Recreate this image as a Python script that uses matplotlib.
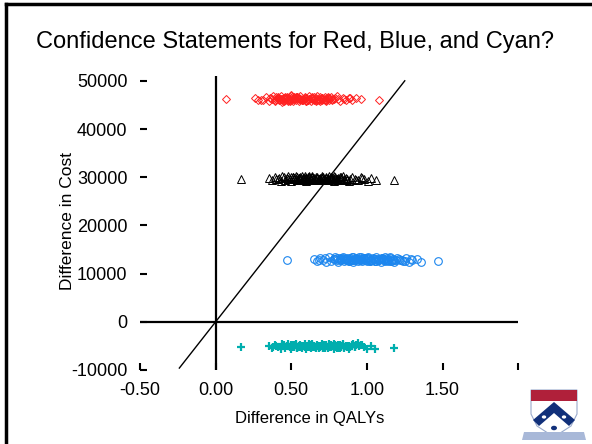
import matplotlib
matplotlib.use("Agg")
import matplotlib.pyplot as plt
from matplotlib.lines import Line2D
from matplotlib.patches import Polygon, Circle

plt.rcParams['font.family'] = ['Liberation Sans', 'DejaVu Sans']

# simulated incremental QALYs / costs for each strategy
red_qaly = [
    0.07, 0.26, 0.30, 0.33, 0.35, 0.36, 0.38, 0.39, 0.40, 0.41,
    0.42, 0.43, 0.44, 0.45, 0.46, 0.47, 0.48, 0.49, 0.50, 0.50,
    0.51, 0.52, 0.53, 0.54, 0.55, 0.55, 0.56, 0.57, 0.58, 0.59,
    0.60, 0.60, 0.61, 0.62, 0.63, 0.64, 0.65, 0.65, 0.66, 0.67,
    0.68, 0.69, 0.70, 0.71, 0.72, 0.73, 0.74, 0.75, 0.76, 0.77,
    0.78, 0.80, 0.82, 0.84, 0.86, 0.88, 0.90, 0.93, 0.96, 1.08,
    0.40, 0.44, 0.48, 0.52, 0.56, 0.60, 0.64, 0.68, 0.72, 0.46,
    0.54, 0.62, 0.70, 0.58, 0.66, 0.50, 0.42, 0.74, 0.37, 0.79,
    0.39, 0.41, 0.43, 0.45, 0.47, 0.49, 0.51, 0.53, 0.55, 0.57,
    0.59, 0.61, 0.63, 0.65, 0.67, 0.69, 0.71, 0.73, 0.75, 0.77,
    0.44, 0.48, 0.52, 0.56, 0.60, 0.64, 0.68, 0.72, 0.50, 0.58,
    0.66, 0.54, 0.62, 0.70, 0.46, 0.81, 0.31, 0.85, 0.89, 0.28,
]
red_cost = [
    46200, 46500, 46000, 46700, 45900, 46400, 46800, 45800, 46300, 46600,
    46000, 46900, 45700, 46400, 46000, 46700, 46200, 45900, 46500, 47000,
    45800, 46300, 46100, 46600, 45900, 46400, 46900, 46000, 46200, 46700,
    45800, 46500, 46100, 46800, 45900, 46300, 46600, 46000, 46400, 46900,
    46100, 45800, 46500, 46200, 46700, 45900, 46400, 46100, 46600, 46000,
    46300, 46800, 45900, 46500, 46100, 46400, 46000, 46500, 46200, 46100,
    46600, 46100, 45800, 46500, 46200, 45900, 46700, 46300, 46000, 46400,
    46700, 46200, 46500, 46000, 45800, 46800, 46300, 46600, 46200, 46500,
    46100, 46500, 46300, 45900, 46400, 46000, 46300, 46600, 46200, 46000,
    46400, 46100, 46500, 46200, 46000, 46600, 46300, 46000, 46400, 46200,
    46300, 46000, 46600, 46300, 46000, 46400, 46100, 46300, 46400, 46200,
    46000, 46500, 46300, 46100, 46600, 46200, 46000, 46300, 46500, 46000,
]

black_qaly = [
    0.17, 0.35, 0.37, 0.39, 0.41, 0.43, 0.44, 0.46, 0.47, 0.48,
    0.49, 0.50, 0.51, 0.52, 0.53, 0.54, 0.55, 0.56, 0.57, 0.58,
    0.59, 0.60, 0.61, 0.62, 0.63, 0.64, 0.65, 0.66, 0.67, 0.68,
    0.69, 0.70, 0.71, 0.72, 0.73, 0.74, 0.75, 0.76, 0.77, 0.78,
    0.79, 0.80, 0.81, 0.82, 0.83, 0.84, 0.85, 0.86, 0.88, 0.90,
    0.92, 0.94, 0.96, 0.98, 1.01, 1.03, 1.06, 1.18, 0.50, 0.54,
    0.58, 0.62, 0.66, 0.70, 0.74, 0.78, 0.82, 0.56, 0.64, 0.72,
    0.60, 0.68, 0.76, 0.52, 0.80, 0.45, 0.87, 0.63, 0.71, 0.57,
    0.48, 0.51, 0.53, 0.55, 0.57, 0.59, 0.61, 0.63, 0.65, 0.67,
    0.69, 0.71, 0.73, 0.75, 0.77, 0.79, 0.81, 0.83, 0.85, 0.87,
    0.52, 0.56, 0.60, 0.64, 0.68, 0.72, 0.76, 0.80, 0.58, 0.66,
    0.74, 0.62, 0.70, 0.78, 0.54, 0.89, 0.42, 0.93, 0.97, 0.40,
]
black_cost = [
    29600, 29900, 29400, 30100, 29700, 29300, 30200, 29500, 29900, 30300,
    29600, 29200, 30000, 29700, 30300, 29400, 29800, 30100, 29500, 29900,
    30200, 29300, 29700, 30000, 29500, 30300, 29800, 29400, 30100, 29600,
    29900, 30200, 29400, 29700, 30000, 29500, 30300, 29600, 29900, 29300,
    30100, 29700, 29400, 30000, 29600, 30200, 29500, 29800, 29300, 30100,
    29700, 29400, 30000, 29600, 29300, 29900, 29500, 29500, 30100, 29500,
    29800, 30200, 29400, 29900, 29600, 30200, 29500, 29700, 30100, 29400,
    29800, 29500, 30000, 29700, 29400, 30000, 29600, 29800, 29500, 30200,
    29700, 30000, 29600, 29900, 29500, 29800, 30000, 29700, 29500, 29900,
    29600, 30000, 29800, 29500, 29900, 29600, 29800, 30000, 29700, 29500,
    29900, 29600, 29800, 30000, 29700, 29500, 29900, 29700, 29600, 30000,
    29800, 29500, 29900, 29700, 30000, 29600, 29800, 29500, 29900, 29700,
]

blue_qaly = [
    0.47, 0.65, 0.67, 0.69, 0.71, 0.73, 0.75, 0.76, 0.78, 0.79,
    0.80, 0.81, 0.82, 0.83, 0.84, 0.85, 0.86, 0.87, 0.88, 0.89,
    0.90, 0.91, 0.92, 0.93, 0.94, 0.95, 0.96, 0.97, 0.98, 0.99,
    1.00, 1.01, 1.02, 1.03, 1.04, 1.05, 1.06, 1.07, 1.08, 1.09,
    1.10, 1.11, 1.12, 1.13, 1.14, 1.15, 1.16, 1.17, 1.18, 1.20,
    1.22, 1.24, 1.26, 1.28, 1.30, 1.33, 1.36, 1.47, 0.84, 0.88,
    0.92, 0.96, 1.00, 1.04, 1.08, 1.12, 1.16, 0.90, 0.98, 1.06,
    0.94, 1.02, 1.10, 0.86, 1.14, 0.80, 1.19, 0.97, 1.05, 0.91,
    0.79, 0.82, 0.85, 0.87, 0.89, 0.91, 0.93, 0.95, 0.97, 0.99,
    1.01, 1.03, 1.05, 1.07, 1.09, 1.11, 1.13, 1.15, 1.17, 1.21,
    0.83, 0.88, 0.93, 0.98, 1.03, 1.08, 1.13, 0.86, 0.96, 1.06,
    0.90, 1.00, 1.10, 1.18, 0.78, 1.23, 0.72, 1.25, 1.29, 0.68,
]
blue_cost = [
    12800, 13100, 12600, 13300, 12900, 12500, 13400, 12700, 13100, 13500,
    12800, 12400, 13200, 12900, 13500, 12600, 13000, 13300, 12700, 13100,
    13400, 12500, 12900, 13200, 12700, 13500, 13000, 12600, 13300, 12800,
    13100, 13400, 12600, 12900, 13200, 12700, 13500, 12800, 13100, 12500,
    13300, 12900, 12600, 13200, 12800, 13400, 12700, 13000, 12500, 13300,
    12900, 12600, 13200, 12400, 12800, 13100, 12500, 12600, 13300, 12700,
    13000, 13400, 12600, 13100, 12800, 13400, 12700, 12900, 13300, 12600,
    13000, 12700, 13200, 12900, 12600, 13200, 12800, 13000, 12700, 13400,
    13000, 12800, 13100, 12900, 13200, 12800, 13000, 12900, 13100, 12800,
    13200, 12900, 13000, 12800, 13100, 13000, 12900, 13200, 12800, 13000,
    13100, 12900, 13000, 13200, 12800, 13100, 12900, 13000, 12800, 13100,
    12900, 13200, 13000, 12800, 13100, 12900, 13200, 12700, 13000, 12900,
]

cyan_qaly = [
    0.17, 0.35, 0.37, 0.39, 0.41, 0.43, 0.44, 0.46, 0.47, 0.48,
    0.49, 0.50, 0.51, 0.52, 0.53, 0.54, 0.55, 0.56, 0.57, 0.58,
    0.59, 0.60, 0.61, 0.62, 0.63, 0.64, 0.65, 0.66, 0.67, 0.68,
    0.69, 0.70, 0.71, 0.72, 0.73, 0.74, 0.75, 0.76, 0.77, 0.78,
    0.79, 0.80, 0.81, 0.82, 0.83, 0.84, 0.85, 0.86, 0.88, 0.90,
    0.92, 0.94, 0.96, 0.98, 1.00, 1.03, 1.05, 1.18, 0.50, 0.54,
    0.58, 0.62, 0.66, 0.70, 0.74, 0.78, 0.82, 0.56, 0.64, 0.72,
    0.60, 0.68, 0.76, 0.52, 0.80, 0.45, 0.87, 0.63, 0.71, 0.93,
    0.48, 0.51, 0.53, 0.55, 0.57, 0.59, 0.61, 0.63, 0.65, 0.67,
    0.69, 0.71, 0.73, 0.75, 0.77, 0.79, 0.81, 0.83, 0.85, 0.87,
    0.52, 0.56, 0.60, 0.64, 0.68, 0.72, 0.76, 0.80, 0.84, 0.88,
    0.91, 0.95, 0.62, 0.70, 0.78, 0.89, 0.40, 0.92, 0.97, 0.38,
]
cyan_cost = [
    -5300, -5000, -5500, -4800, -5200, -5600, -4700, -5400, -5000, -4600,
    -5300, -5700, -4900, -5200, -4600, -5500, -5100, -4800, -5400, -5000,
    -4700, -5600, -5200, -4900, -5400, -4600, -5100, -5500, -4800, -5300,
    -5000, -4700, -5500, -5200, -4900, -5400, -4600, -5300, -5000, -5600,
    -4800, -5200, -5500, -4900, -5300, -4700, -5400, -5100, -5600, -4800,
    -5200, -4500, -4900, -5300, -5700, -5000, -5600, -5400, -4800, -5400,
    -5100, -4700, -5500, -5000, -5300, -4700, -5400, -5200, -4800, -5500,
    -5100, -5400, -4900, -5200, -5500, -4900, -5300, -5100, -5400, -4800,
    -5100, -5300, -4900, -5200, -5000, -5300, -5100, -4900, -5200, -5000,
    -5300, -4900, -5100, -5200, -5000, -5300, -4900, -5100, -5200, -5000,
    -4900, -5200, -5000, -5300, -5100, -4900, -5200, -5000, -4800, -5100,
    -4700, -5000, -5300, -5100, -4900, -5200, -5100, -5300, -4900, -5200,
]

# willingness-to-pay line, $40,000 per QALY
wtp = 40000
wtp_x = [-0.24, 1.25]

xticks = [-0.5, 0.0, 0.5, 1.0, 1.5, 2.0]
xtick_labels = ['-0.50', '0.00', '0.50', '1.00', '1.50', '']
yticks = [-10000, 0, 10000, 20000, 30000, 40000, 50000]

W, H = 592, 444
fig = plt.figure(figsize=(W / 100, H / 100), dpi=100)


def px(x, y):
    return x / W, 1 - y / H


ax = fig.add_axes([0.2365, 0.1667, 0.644, 0.673])
ax.set_xlim(-0.5, 2.02)
ax.set_ylim(-10000, 52000)
for s in ax.spines.values():
    s.set_visible(False)

# axes through the origin
ax.plot([-0.5, 2.0], [0, 0], color='black', lw=1.6, solid_capstyle='butt')
ax.plot([0, 0], [-10000, 51000], color='black', lw=1.6, solid_capstyle='butt')
ax.plot(wtp_x, [wtp * v for v in wtp_x], color='black', lw=1.0)

ax.plot(red_qaly, red_cost, ls='none', marker='D', ms=4.2, mfc='none',
        mec='#ff2020', mew=0.7)
ax.plot(black_qaly, black_cost, ls='none', marker='^', ms=5.5, mfc='none',
        mec='black', mew=0.7)
ax.plot(blue_qaly, blue_cost, ls='none', marker='o', ms=5.5, mfc='none',
        mec='#1c86ee', mew=0.8)
ax.plot(cyan_qaly, cyan_cost, ls='none', marker='+', ms=6, mec='#00aeae',
        mew=1.6)

ax.set_xticks(xticks)
ax.set_xticklabels(xtick_labels)
ax.set_yticks(yticks)
ax.set_yticklabels([str(v) for v in yticks])
ax.tick_params(direction='in', length=5, width=1.5, labelsize=13, pad=9)

fig.text(px(310, 0)[0], px(0, 418)[1], 'Difference in QALYs', fontsize=12,
         ha='center', va='center')
fig.text(px(67, 0)[0], px(0, 221)[1], 'Difference in Cost', fontsize=12.5,
         ha='center', va='center', rotation=90)
fig.text(px(295, 0)[0], px(0, 42)[1],
         'Confidence Statements for Red, Blue, and Cyan?', fontsize=17,
         ha='center', va='center')

# slide frame
fig.add_artist(Line2D([6 / W, 6 / W], [0, 1 - 4 / H], color='black', lw=2.5))
fig.add_artist(Line2D([6 / W, 1], [1 - 4 / H, 1 - 4 / H], color='black', lw=2.5))

# university shield in the corner
shield = [px(531, 390), px(577, 390), px(577, 414), px(571, 426),
          px(554, 437), px(537, 426), px(531, 414)]
fig.add_artist(Polygon(shield, closed=True, fc='white', ec='#99aacc', lw=0.8,
                       transform=fig.transFigure))
fig.add_artist(Polygon([px(531, 390), px(577, 390), px(577, 401), px(531, 401)],
                       closed=True, fc='#b0203a', ec='none',
                       transform=fig.transFigure))
chevron = [px(554, 402), px(575, 420), px(569, 426), px(554, 413),
           px(539, 426), px(533, 420)]
fig.add_artist(Polygon(chevron, closed=True, fc='#11307a', ec='none',
                       transform=fig.transFigure))
for cx, cy in [(544, 417), (564, 417)]:
    fig.add_artist(Circle(px(cx, cy), 2.2 / W, fc='white', ec='none',
                          transform=fig.transFigure))
fig.add_artist(Circle(px(554, 428), 3.0 / W, fc='#11307a', ec='none',
                      transform=fig.transFigure))
fig.add_artist(Polygon([px(524, 432), px(584, 432), px(586, 440), px(522, 440)],
                       closed=True, fc='#a8b8d8', ec='none',
                       transform=fig.transFigure))

fig.savefig('out.png', dpi=100)
